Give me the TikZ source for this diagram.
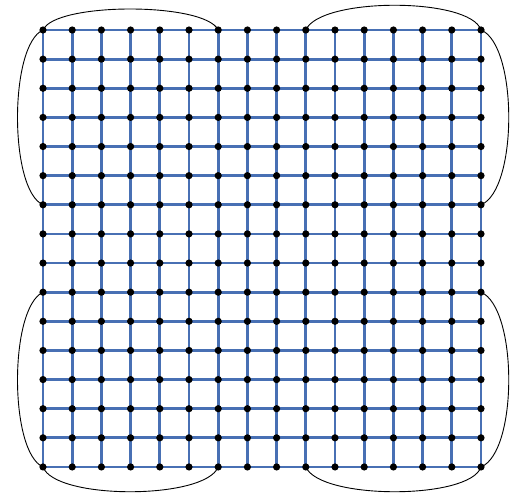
\documentclass[tikz,border=0pt]{standalone}
\begin{document}
\begin{tikzpicture}[x=1pt,y=-1pt,
  gridline/.style={draw={rgb,255:red,72;green,112;blue,180},line width=2.8pt},
  vtx/.style={circle,inner sep=0pt,minimum size=7pt},
  hull/.style={draw=black,line width=0.9pt}]
\useasboundingbox (0,0) rectangle (510,495);
\foreach \i in {0,...,15}{
  \foreach \j in {0,...,15}{
    \node[vtx] (n-\i-\j) at ({43+29.2*\i},{30+29.13*\j}) {};
  }
}
\foreach \i in {0,...,15}{
  \draw[gridline] (n-\i-0.center) -- (n-\i-15.center);
  \draw[gridline] (n-0-\i.center) -- (n-15-\i.center);
}
\foreach \i in {0,...,15}{
  \foreach \j in {0,...,15}{
    \fill (n-\i-\j.center) circle (3.6pt);
  }
}
% top-left
\draw[hull] (n-0-0.center) .. controls (55,2) and (205,2) .. (n-6-0.center);
\draw[hull] (n-0-0.center) .. controls (9,45) and (9,190) .. (n-0-6.center);
% top-right
\draw[hull] (n-9-0.center) .. controls (320,-3) and (470,-3) .. (n-15-0.center);
\draw[hull] (n-15-0.center) .. controls (518,45) and (518,190) .. (n-15-6.center);
% bottom-left
\draw[hull] (n-0-9.center) .. controls (9,308) and (9,452) .. (n-0-15.center);
\draw[hull] (n-0-15.center) .. controls (55,500) and (205,500) .. (n-6-15.center);
% bottom-right
\draw[hull] (n-9-15.center) .. controls (320,500) and (470,500) .. (n-15-15.center);
\draw[hull] (n-15-9.center) .. controls (518,308) and (518,452) .. (n-15-15.center);
\end{tikzpicture}
\end{document}
